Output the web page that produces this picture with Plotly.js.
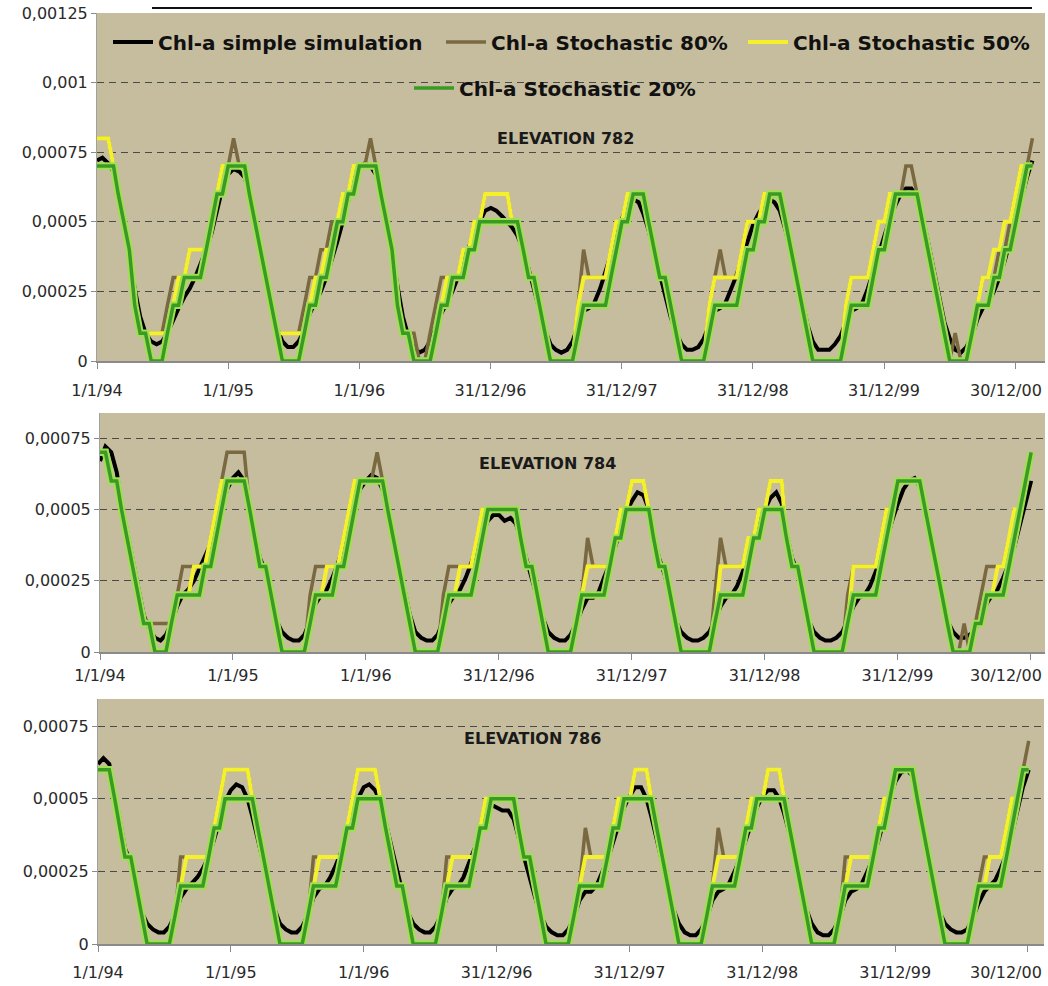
<!DOCTYPE html>
<html><head><meta charset="utf-8">
<script src="https://cdn.plot.ly/plotly-3.0.1.min.js"></script>
<style>html,body{margin:0;padding:0;background:#fff}</style>
</head><body><div id="chart" style="width:1048px;height:986px"></div>
<script>
const seriesNames = ['Chl-a simple simulation','Chl-a Stochastic 80%','Chl-a Stochastic 50%','Chl-a Stochastic 20%'];
const panelTitles = ['ELEVATION 782','ELEVATION 784','ELEVATION 786'];
const xTickDates = ['1994-01-01','1995-01-01','1996-01-01','1996-12-31','1997-12-31','1998-12-31','1999-12-31','2000-12-30'];
const xTickLabels = ['1/1/94','1/1/95','1/1/96','31/12/96','31/12/97','31/12/98','31/12/99','30/12/00'];
const yTickVals1 = [0,0.00025,0.0005,0.00075,0.001,0.00125];
const yTickLabels1 = ['0','0,00025','0,0005','0,00075','0,001','0,00125'];
const yTickVals23 = [0,0.00025,0.0005,0.00075];
const yTickLabels23 = ['0','0,00025','0,0005','0,00075'];

// sampling dates: 1st and 16th of each month, from 1/1/94
const dates = [];
for (let y = 1994; y <= 2001; y++) for (let m = 1; m <= 12; m++) for (const d of ['01','16']) dates.push(y + '-' + String(m).padStart(2,'0') + '-' + d);

// ---------- ELEVATION 782 ----------
const sim782 = [
7.2e-4,7.3e-4,7.1e-4,6.8e-4,6e-4,5e-4,3.8e-4,2.6e-4,1.6e-4,1e-4,7e-5,6e-5,7e-5,1e-4,1.5e-4,1.9e-4,2.3e-4,2.6e-4,3e-4,3.5e-4,4e-4,4.6e-4,5.4e-4,6.2e-4,
6.7e-4,6.9e-4,6.8e-4,6.6e-4,6e-4,5e-4,4e-4,3e-4,2e-4,1.2e-4,7e-5,5e-5,5e-5,7e-5,1.1e-4,1.7e-4,2.1e-4,2.5e-4,3e-4,3.6e-4,4.3e-4,5e-4,5.8e-4,6.5e-4,
6.9e-4,7.1e-4,7e-4,6.7e-4,6e-4,5e-4,3.9e-4,2.7e-4,1.6e-4,9e-5,5e-5,3e-5,4e-5,7e-5,1.2e-4,1.7e-4,2.1e-4,2.5e-4,3e-4,3.6e-4,4.1e-4,4.5e-4,5e-4,5.4e-4,
5.5e-4,5.4e-4,5.2e-4,5e-4,4.8e-4,4.5e-4,4e-4,3.3e-4,2.6e-4,1.8e-4,1.1e-4,6e-5,4e-5,3e-5,4e-5,7e-5,1.3e-4,1.8e-4,1.9e-4,2.1e-4,2.6e-4,3.2e-4,3.8e-4,4.5e-4,
5.1e-4,5.6e-4,5.8e-4,5.7e-4,5.3e-4,4.7e-4,3.9e-4,3.1e-4,2.4e-4,1.6e-4,1e-4,6e-5,4e-5,4e-5,5e-5,8e-5,1.3e-4,1.8e-4,1.9e-4,2.1e-4,2.6e-4,3.1e-4,3.7e-4,4.3e-4,
4.9e-4,5.3e-4,5.6e-4,5.8e-4,5.7e-4,5.4e-4,4.7e-4,3.9e-4,3e-4,2.1e-4,1.3e-4,7e-5,4e-5,4e-5,4e-5,6e-5,9e-5,1.4e-4,1.8e-4,1.9e-4,2.1e-4,2.6e-4,3.2e-4,3.9e-4,
4.5e-4,5.1e-4,5.6e-4,6e-4,6.2e-4,6.2e-4,5.9e-4,5.2e-4,4.3e-4,3.3e-4,2.3e-4,1.4e-4,8e-5,4e-5,3e-5,5e-5,9e-5,1.5e-4,1.9e-4,2.1e-4,2.5e-4,3e-4,3.6e-4,4.3e-4,
5e-4,5.8e-4,6.6e-4,7.2e-4];
const st80_782 = [
8e-4,8e-4,8e-4,7e-4,6e-4,5e-4,4e-4,2e-4,1e-4,1e-4,1e-4,1e-4,1e-4,2e-4,3e-4,3e-4,3e-4,4e-4,4e-4,4e-4,4e-4,5e-4,6e-4,7e-4,
7e-4,8e-4,7e-4,7e-4,6e-4,5e-4,4e-4,3e-4,2e-4,1e-4,1e-4,1e-4,1e-4,1e-4,2e-4,3e-4,3e-4,4e-4,4e-4,5e-4,5e-4,6e-4,6e-4,7e-4,
7e-4,7e-4,8e-4,7e-4,6e-4,5e-4,4e-4,2e-4,1e-4,1e-4,1e-4,0,0,1e-4,2e-4,3e-4,3e-4,3e-4,3e-4,4e-4,4e-4,5e-4,5e-4,6e-4,
6e-4,6e-4,6e-4,6e-4,5e-4,5e-4,4e-4,3e-4,3e-4,2e-4,1e-4,0,0,0,0,0,2e-4,4e-4,3e-4,3e-4,3e-4,3e-4,4e-4,5e-4,
5e-4,6e-4,6e-4,6e-4,6e-4,5e-4,4e-4,3e-4,3e-4,2e-4,1e-4,0,0,0,0,0,2e-4,3e-4,4e-4,3e-4,3e-4,3e-4,4e-4,5e-4,
5e-4,5e-4,6e-4,6e-4,6e-4,6e-4,5e-4,4e-4,3e-4,2e-4,1e-4,0,0,0,0,0,0,2e-4,3e-4,3e-4,3e-4,3e-4,4e-4,5e-4,
5e-4,6e-4,6e-4,6e-4,7e-4,7e-4,6e-4,5e-4,4e-4,3e-4,2e-4,1e-4,0,1e-4,0,0,1e-4,2e-4,3e-4,3e-4,3e-4,4e-4,4e-4,5e-4,
6e-4,7e-4,7e-4,8e-4];
const st50_782 = [
8e-4,8e-4,8e-4,7e-4,6e-4,5e-4,4e-4,2e-4,1e-4,1e-4,1e-4,1e-4,1e-4,1e-4,2e-4,3e-4,3e-4,4e-4,4e-4,4e-4,4e-4,5e-4,6e-4,7e-4,
7e-4,7e-4,7e-4,7e-4,6e-4,5e-4,4e-4,3e-4,2e-4,1e-4,1e-4,1e-4,1e-4,1e-4,1e-4,2e-4,3e-4,3e-4,4e-4,4e-4,5e-4,6e-4,6e-4,7e-4,
7e-4,7e-4,7e-4,7e-4,6e-4,5e-4,4e-4,2e-4,1e-4,1e-4,0,0,0,0,1e-4,2e-4,3e-4,3e-4,3e-4,4e-4,4e-4,5e-4,5e-4,6e-4,
6e-4,6e-4,6e-4,6e-4,5e-4,5e-4,4e-4,3e-4,3e-4,2e-4,1e-4,0,0,0,0,0,2e-4,3e-4,3e-4,3e-4,3e-4,3e-4,4e-4,5e-4,
5e-4,6e-4,6e-4,6e-4,6e-4,5e-4,4e-4,3e-4,3e-4,2e-4,1e-4,0,0,0,0,0,2e-4,3e-4,3e-4,3e-4,3e-4,3e-4,4e-4,5e-4,
5e-4,5e-4,6e-4,6e-4,6e-4,6e-4,5e-4,4e-4,3e-4,2e-4,1e-4,0,0,0,0,0,0,2e-4,3e-4,3e-4,3e-4,3e-4,4e-4,5e-4,
5e-4,6e-4,6e-4,6e-4,6e-4,6e-4,6e-4,5e-4,4e-4,3e-4,2e-4,1e-4,0,0,0,0,1e-4,2e-4,3e-4,3e-4,4e-4,4e-4,5e-4,5e-4,
6e-4,7e-4,7e-4,7e-4];
const st20_782 = [
7e-4,7e-4,7e-4,7e-4,6e-4,5e-4,4e-4,2e-4,1e-4,1e-4,0,0,0,1e-4,2e-4,2e-4,3e-4,3e-4,3e-4,3e-4,4e-4,5e-4,6e-4,6e-4,
7e-4,7e-4,7e-4,7e-4,6e-4,5e-4,4e-4,3e-4,2e-4,1e-4,0,0,0,0,1e-4,2e-4,2e-4,3e-4,3e-4,4e-4,5e-4,5e-4,6e-4,6e-4,
7e-4,7e-4,7e-4,7e-4,6e-4,5e-4,4e-4,2e-4,1e-4,1e-4,0,0,0,0,1e-4,2e-4,2e-4,3e-4,3e-4,3e-4,4e-4,4e-4,5e-4,5e-4,
5e-4,5e-4,5e-4,5e-4,5e-4,5e-4,4e-4,3e-4,3e-4,2e-4,1e-4,0,0,0,0,0,1e-4,2e-4,2e-4,2e-4,2e-4,2e-4,3e-4,4e-4,
5e-4,5e-4,6e-4,6e-4,6e-4,5e-4,4e-4,3e-4,3e-4,2e-4,1e-4,0,0,0,0,0,1e-4,2e-4,2e-4,2e-4,2e-4,2e-4,3e-4,4e-4,
4e-4,5e-4,5e-4,6e-4,6e-4,6e-4,5e-4,4e-4,3e-4,2e-4,1e-4,0,0,0,0,0,0,1e-4,2e-4,2e-4,2e-4,2e-4,3e-4,4e-4,
4e-4,5e-4,6e-4,6e-4,6e-4,6e-4,6e-4,5e-4,4e-4,3e-4,2e-4,1e-4,0,0,0,0,1e-4,2e-4,2e-4,2e-4,3e-4,3e-4,4e-4,4e-4,
5e-4,6e-4,7e-4,7e-4];

// ---------- ELEVATION 784 ----------
const sim784 = [
6.7e-4,7.2e-4,7e-4,6.3e-4,5.2e-4,4.2e-4,3.2e-4,2.2e-4,1.3e-4,8e-5,5e-5,4e-5,6e-5,1e-4,1.6e-4,2e-4,2.2e-4,2.5e-4,2.9e-4,3.3e-4,3.8e-4,4.4e-4,5.1e-4,5.7e-4,
6.1e-4,6.3e-4,6e-4,5.2e-4,4.2e-4,3.3e-4,2.8e-4,2e-4,1.1e-4,7e-5,5e-5,4e-5,4e-5,6e-5,1.1e-4,1.7e-4,2e-4,2.2e-4,2.6e-4,3.1e-4,3.7e-4,4.4e-4,5.1e-4,5.7e-4,
6e-4,6.2e-4,6.1e-4,5.7e-4,4.9e-4,4e-4,3e-4,2.1e-4,1.3e-4,7e-5,5e-5,4e-5,4e-5,6e-5,1.1e-4,1.7e-4,2e-4,2.2e-4,2.6e-4,3.1e-4,3.6e-4,4.1e-4,4.6e-4,4.8e-4,
4.8e-4,4.6e-4,4.7e-4,4.5e-4,4e-4,3.3e-4,2.6e-4,1.9e-4,1.2e-4,7e-5,5e-5,4e-5,4e-5,6e-5,1e-4,1.5e-4,1.9e-4,1.9e-4,2.1e-4,2.6e-4,3.1e-4,3.7e-4,4.3e-4,4.9e-4,
5.3e-4,5.6e-4,5.5e-4,5e-4,4.1e-4,3.3e-4,2.7e-4,1.9e-4,1.1e-4,7e-5,5e-5,4e-5,4e-5,5e-5,7e-5,1.1e-4,1.6e-4,1.9e-4,2e-4,2.3e-4,2.8e-4,3.3e-4,3.9e-4,4.5e-4,
5e-4,5.4e-4,5.6e-4,5.2e-4,4.2e-4,3.3e-4,2.8e-4,1.9e-4,1.1e-4,7e-5,5e-5,4e-5,4e-5,5e-5,7e-5,1.1e-4,1.6e-4,1.9e-4,2e-4,2.3e-4,2.8e-4,3.3e-4,3.9e-4,4.6e-4,
5.2e-4,5.7e-4,6e-4,6.1e-4,5.8e-4,5e-4,4e-4,3e-4,2e-4,1.1e-4,7e-5,5e-5,5e-5,6e-5,8e-5,1.2e-4,1.7e-4,2e-4,2.2e-4,2.6e-4,3.1e-4,3.7e-4,4.4e-4,5.2e-4,
6e-4];
const st80_784 = [
7e-4,7e-4,6e-4,6e-4,5e-4,4e-4,3e-4,2e-4,1e-4,1e-4,1e-4,1e-4,1e-4,1e-4,2e-4,3e-4,3e-4,3e-4,3e-4,3e-4,4e-4,5e-4,6e-4,7e-4,
7e-4,7e-4,7e-4,5e-4,4e-4,3e-4,3e-4,2e-4,1e-4,0,0,0,0,0,2e-4,3e-4,3e-4,3e-4,3e-4,3e-4,4e-4,5e-4,6e-4,6e-4,
6e-4,6e-4,7e-4,6e-4,5e-4,4e-4,3e-4,2e-4,1e-4,0,0,0,0,0,2e-4,3e-4,3e-4,3e-4,3e-4,3e-4,4e-4,5e-4,5e-4,5e-4,
5e-4,5e-4,5e-4,5e-4,4e-4,3e-4,3e-4,2e-4,1e-4,0,0,0,0,0,1e-4,2e-4,4e-4,3e-4,3e-4,3e-4,3e-4,4e-4,5e-4,5e-4,
6e-4,6e-4,6e-4,5e-4,4e-4,3e-4,3e-4,2e-4,1e-4,0,0,0,0,0,0,2e-4,4e-4,3e-4,3e-4,3e-4,3e-4,4e-4,4e-4,5e-4,
5e-4,6e-4,6e-4,6e-4,4e-4,3e-4,3e-4,2e-4,1e-4,0,0,0,0,0,0,2e-4,3e-4,3e-4,3e-4,3e-4,3e-4,4e-4,5e-4,5e-4,
6e-4,6e-4,6e-4,6e-4,6e-4,5e-4,4e-4,3e-4,2e-4,1e-4,0,0,1e-4,0,1e-4,2e-4,3e-4,3e-4,3e-4,3e-4,4e-4,4e-4,5e-4,6e-4,
7e-4];
const st50_784 = [
7e-4,7e-4,6e-4,6e-4,5e-4,4e-4,3e-4,2e-4,1e-4,1e-4,0,0,0,1e-4,2e-4,2e-4,2e-4,3e-4,3e-4,3e-4,4e-4,5e-4,6e-4,6e-4,
6e-4,6e-4,6e-4,5e-4,4e-4,3e-4,3e-4,2e-4,1e-4,0,0,0,0,0,1e-4,2e-4,2e-4,3e-4,3e-4,3e-4,4e-4,5e-4,6e-4,6e-4,
6e-4,6e-4,6e-4,6e-4,5e-4,4e-4,3e-4,2e-4,1e-4,0,0,0,0,0,1e-4,2e-4,2e-4,3e-4,3e-4,3e-4,4e-4,5e-4,5e-4,5e-4,
5e-4,5e-4,5e-4,5e-4,4e-4,3e-4,3e-4,2e-4,1e-4,0,0,0,0,0,1e-4,2e-4,3e-4,3e-4,3e-4,3e-4,3e-4,4e-4,5e-4,5e-4,
6e-4,6e-4,6e-4,5e-4,4e-4,3e-4,3e-4,2e-4,1e-4,0,0,0,0,0,0,1e-4,3e-4,3e-4,3e-4,3e-4,3e-4,4e-4,4e-4,5e-4,
5e-4,6e-4,6e-4,6e-4,4e-4,3e-4,3e-4,2e-4,1e-4,0,0,0,0,0,0,1e-4,3e-4,3e-4,3e-4,3e-4,3e-4,4e-4,5e-4,5e-4,
6e-4,6e-4,6e-4,6e-4,6e-4,5e-4,4e-4,3e-4,2e-4,1e-4,0,0,0,0,1e-4,1e-4,2e-4,2e-4,3e-4,3e-4,4e-4,5e-4,5e-4,6e-4,
7e-4];
const st20_784 = [
7e-4,7e-4,6e-4,6e-4,5e-4,4e-4,3e-4,2e-4,1e-4,1e-4,0,0,0,1e-4,2e-4,2e-4,2e-4,2e-4,2e-4,3e-4,3e-4,4e-4,5e-4,6e-4,
6e-4,6e-4,6e-4,5e-4,4e-4,3e-4,3e-4,2e-4,1e-4,0,0,0,0,0,1e-4,2e-4,2e-4,2e-4,2e-4,3e-4,3e-4,4e-4,5e-4,6e-4,
6e-4,6e-4,6e-4,6e-4,5e-4,4e-4,3e-4,2e-4,1e-4,0,0,0,0,0,1e-4,2e-4,2e-4,2e-4,2e-4,2e-4,3e-4,4e-4,5e-4,5e-4,
5e-4,5e-4,5e-4,5e-4,4e-4,3e-4,3e-4,2e-4,1e-4,0,0,0,0,0,1e-4,2e-4,2e-4,2e-4,2e-4,2e-4,3e-4,4e-4,4e-4,5e-4,
5e-4,5e-4,5e-4,5e-4,4e-4,3e-4,3e-4,2e-4,1e-4,0,0,0,0,0,0,1e-4,2e-4,2e-4,2e-4,2e-4,2e-4,3e-4,4e-4,4e-4,
5e-4,5e-4,5e-4,5e-4,4e-4,3e-4,3e-4,2e-4,1e-4,0,0,0,0,0,0,1e-4,2e-4,2e-4,2e-4,2e-4,2e-4,3e-4,4e-4,5e-4,
6e-4,6e-4,6e-4,6e-4,6e-4,5e-4,4e-4,3e-4,2e-4,1e-4,0,0,0,0,1e-4,1e-4,2e-4,2e-4,2e-4,2e-4,3e-4,4e-4,5e-4,6e-4,
7e-4];

// ---------- ELEVATION 786 ----------
const sim786 = [
6.2e-4,6.4e-4,6.2e-4,5.2e-4,4.2e-4,3.3e-4,2.8e-4,1.9e-4,1.1e-4,7e-5,5e-5,4e-5,4e-5,6e-5,1e-4,1.6e-4,1.9e-4,2.1e-4,2.3e-4,2.6e-4,3e-4,3.6e-4,4.2e-4,4.9e-4,
5.3e-4,5.5e-4,5.4e-4,5e-4,4.4e-4,3.6e-4,2.7e-4,1.9e-4,1.2e-4,7e-5,5e-5,4e-5,4e-5,6e-5,1e-4,1.6e-4,1.9e-4,2e-4,2.3e-4,2.7e-4,3.2e-4,3.8e-4,4.4e-4,5e-4,
5.4e-4,5.5e-4,5.3e-4,4.9e-4,4.2e-4,3.4e-4,2.6e-4,1.8e-4,1.1e-4,7e-5,5e-5,4e-5,4e-5,6e-5,1e-4,1.6e-4,1.9e-4,2e-4,2.3e-4,2.8e-4,3.3e-4,3.9e-4,4.5e-4,4.8e-4,
4.7e-4,4.6e-4,4.6e-4,4.3e-4,3.7e-4,3e-4,2.3e-4,1.6e-4,1e-4,6e-5,4e-5,3e-5,3e-5,5e-5,9e-5,1.5e-4,1.8e-4,1.8e-4,2e-4,2.4e-4,2.9e-4,3.5e-4,4.1e-4,4.7e-4,
5.1e-4,5.4e-4,5.4e-4,5e-4,4.4e-4,3.6e-4,2.7e-4,1.9e-4,1.2e-4,7e-5,4e-5,3e-5,3e-5,5e-5,9e-5,1.5e-4,1.8e-4,1.9e-4,2.1e-4,2.5e-4,3e-4,3.6e-4,4.2e-4,4.7e-4,
5.1e-4,5.3e-4,5.3e-4,5e-4,4.5e-4,3.8e-4,2.9e-4,2e-4,1.2e-4,7e-5,4e-5,3e-5,3e-5,5e-5,9e-5,1.5e-4,1.8e-4,1.9e-4,2.1e-4,2.5e-4,3e-4,3.6e-4,4.3e-4,5e-4,
5.6e-4,5.9e-4,6e-4,5.8e-4,4.9e-4,4e-4,3e-4,2e-4,1.1e-4,7e-5,5e-5,4e-5,4e-5,5e-5,9e-5,1.4e-4,1.8e-4,2e-4,2.2e-4,2.6e-4,3.1e-4,3.8e-4,4.6e-4,5.4e-4,
6e-4];
const st80_786 = [
6e-4,6e-4,6e-4,5e-4,4e-4,3e-4,3e-4,2e-4,1e-4,0,0,0,0,0,1e-4,3e-4,3e-4,3e-4,3e-4,3e-4,3e-4,4e-4,5e-4,6e-4,
6e-4,6e-4,6e-4,6e-4,5e-4,4e-4,3e-4,2e-4,1e-4,0,0,0,0,0,1e-4,3e-4,3e-4,3e-4,3e-4,3e-4,3e-4,4e-4,5e-4,6e-4,
6e-4,6e-4,6e-4,5e-4,4e-4,3e-4,2e-4,2e-4,1e-4,0,0,0,0,0,1e-4,3e-4,3e-4,3e-4,3e-4,3e-4,3e-4,4e-4,5e-4,5e-4,
5e-4,5e-4,5e-4,5e-4,4e-4,3e-4,3e-4,2e-4,1e-4,0,0,0,0,0,1e-4,2e-4,4e-4,3e-4,3e-4,3e-4,3e-4,4e-4,5e-4,5e-4,
5e-4,6e-4,6e-4,6e-4,5e-4,4e-4,3e-4,2e-4,1e-4,0,0,0,0,0,1e-4,2e-4,4e-4,3e-4,3e-4,3e-4,3e-4,4e-4,5e-4,5e-4,
5e-4,6e-4,6e-4,6e-4,5e-4,4e-4,3e-4,2e-4,1e-4,0,0,0,0,0,1e-4,3e-4,3e-4,3e-4,3e-4,3e-4,3e-4,4e-4,5e-4,5e-4,
6e-4,6e-4,6e-4,6e-4,5e-4,4e-4,3e-4,2e-4,1e-4,0,0,0,0,0,1e-4,2e-4,3e-4,3e-4,3e-4,3e-4,4e-4,5e-4,5e-4,6e-4,
7e-4];
const st50_786 = [
6e-4,6e-4,6e-4,5e-4,4e-4,3e-4,3e-4,2e-4,1e-4,0,0,0,0,0,1e-4,2e-4,3e-4,3e-4,3e-4,3e-4,3e-4,4e-4,5e-4,6e-4,
6e-4,6e-4,6e-4,6e-4,5e-4,4e-4,3e-4,2e-4,1e-4,0,0,0,0,0,1e-4,2e-4,3e-4,3e-4,3e-4,3e-4,3e-4,4e-4,5e-4,6e-4,
6e-4,6e-4,6e-4,5e-4,4e-4,3e-4,2e-4,2e-4,1e-4,0,0,0,0,0,1e-4,2e-4,3e-4,3e-4,3e-4,3e-4,3e-4,4e-4,5e-4,5e-4,
5e-4,5e-4,5e-4,5e-4,4e-4,3e-4,3e-4,2e-4,1e-4,0,0,0,0,0,1e-4,2e-4,3e-4,3e-4,3e-4,3e-4,3e-4,4e-4,5e-4,5e-4,
5e-4,6e-4,6e-4,6e-4,5e-4,4e-4,3e-4,2e-4,1e-4,0,0,0,0,0,1e-4,2e-4,3e-4,3e-4,3e-4,3e-4,3e-4,4e-4,5e-4,5e-4,
5e-4,6e-4,6e-4,6e-4,5e-4,4e-4,3e-4,2e-4,1e-4,0,0,0,0,0,1e-4,2e-4,3e-4,3e-4,3e-4,3e-4,3e-4,4e-4,5e-4,5e-4,
6e-4,6e-4,6e-4,6e-4,5e-4,4e-4,3e-4,2e-4,1e-4,0,0,0,0,0,1e-4,2e-4,2e-4,3e-4,3e-4,3e-4,4e-4,5e-4,5e-4,6e-4,
6e-4];
const st20_786 = [
6e-4,6e-4,6e-4,5e-4,4e-4,3e-4,3e-4,2e-4,1e-4,0,0,0,0,0,1e-4,2e-4,2e-4,2e-4,2e-4,2e-4,3e-4,4e-4,4e-4,5e-4,
5e-4,5e-4,5e-4,5e-4,5e-4,4e-4,3e-4,2e-4,1e-4,0,0,0,0,0,1e-4,2e-4,2e-4,2e-4,2e-4,2e-4,3e-4,4e-4,4e-4,5e-4,
5e-4,5e-4,5e-4,5e-4,4e-4,3e-4,2e-4,2e-4,1e-4,0,0,0,0,0,1e-4,2e-4,2e-4,2e-4,2e-4,2e-4,3e-4,4e-4,4e-4,5e-4,
5e-4,5e-4,5e-4,5e-4,4e-4,3e-4,3e-4,2e-4,1e-4,0,0,0,0,0,1e-4,2e-4,2e-4,2e-4,2e-4,2e-4,3e-4,4e-4,4e-4,5e-4,
5e-4,5e-4,5e-4,5e-4,5e-4,4e-4,3e-4,2e-4,1e-4,0,0,0,0,0,1e-4,2e-4,2e-4,2e-4,2e-4,2e-4,3e-4,4e-4,4e-4,5e-4,
5e-4,5e-4,5e-4,5e-4,5e-4,4e-4,3e-4,2e-4,1e-4,0,0,0,0,0,1e-4,2e-4,2e-4,2e-4,2e-4,2e-4,3e-4,4e-4,4e-4,5e-4,
6e-4,6e-4,6e-4,6e-4,5e-4,4e-4,3e-4,2e-4,1e-4,0,0,0,0,0,1e-4,2e-4,2e-4,2e-4,2e-4,2e-4,3e-4,4e-4,5e-4,6e-4,
6e-4];

const panels = [
  {sim: sim782, s80: st80_782, s50: st50_782, s20: st20_782},
  {sim: sim784, s80: st80_784, s50: st50_784, s20: st20_784},
  {sim: sim786, s80: st80_786, s50: st50_786, s20: st20_786}
];

const C = {sim:'#000000', s80:'#7a6940', s50:'#f4f02c', glow:'#9fe052', s20:'#3a9a25'};
const traces = [];
panels.forEach((p, i) => {
  const xa = i === 0 ? 'x' : 'x' + (i + 1);
  const ya = i === 0 ? 'y' : 'y' + (i + 1);
  const first = i === 0;
  const mk = (arr, name, color, width, extra) => Object.assign({
    type:'scatter', mode:'lines', x: dates.slice(0, arr.length), y: arr, name: name,
    xaxis: xa, yaxis: ya, line:{color: color, width: width}, hoverinfo:'skip', showlegend:false
  }, extra || {});
  traces.push(mk(p.sim, seriesNames[0], C.sim, 4, first ? {showlegend:true, legend:'legend'} : {}));
  traces.push(mk(p.s80, seriesNames[1], C.s80, 3.5, first ? {showlegend:true, legend:'legend2'} : {}));
  traces.push(mk(p.s50, seriesNames[2], C.s50, 4, first ? {showlegend:true, legend:'legend3'} : {}));
  traces.push(mk(p.s20, seriesNames[3], C.glow, 7.5, {}));
  traces.push(mk(p.s20, seriesNames[3], C.s20, 3.5, first ? {showlegend:true, legend:'legend4'} : {}));
});

const W = 1048, H = 986;
const tickFont = {family:'DejaVu Sans', size:16, color:'#2a2a2a'};
// last date label is drawn right-aligned inside the page, as in the reference
const xShown = xTickLabels.slice(0, -1).concat(['']);
const xCommon = {type:'date', tickvals: xTickDates, ticktext: xShown, ticks:'outside', ticklen:6,
  tickcolor:'#8a8a8a', showline:true, linecolor:'#8a8a8a', linewidth:1.5, showgrid:false, zeroline:false,
  tickfont: tickFont, fixedrange:true};
const yCommon = {ticks:'outside', ticklen:5, tickcolor:'#8a8a8a', showline:true, linecolor:'#a0a0a0',
  gridcolor:'#4a4a4a', griddash:'7px,5px', gridwidth:1, zeroline:false, tickfont: tickFont, fixedrange:true};
const legFont = {family:'DejaVu Sans', size:20, weight:'bold', color:'#111'};
const leg = (xpx, ypx) => ({orientation:'h', x: xpx / W, y: 1 - ypx / H, xanchor:'left', yanchor:'middle',
  bgcolor:'rgba(0,0,0,0)', font: legFont, itemwidth:40});
const titleFont = {family:'DejaVu Sans', size:16, weight:'bold', color:'#1a1a1a'};
const lastLabel = (ypx) => ({text: xTickLabels[xTickLabels.length - 1], xref:'paper', yref:'paper', x:1044/W, y:1 - ypx/H,
  xanchor:'right', yanchor:'middle', showarrow:false, font: tickFont});

const layout = {
  width: W, height: H, margin:{l:0, r:0, t:0, b:0},
  paper_bgcolor:'#ffffff', plot_bgcolor:'#c6bd9f',
  showlegend:true,
  legend: leg(108, 42), legend2: leg(441, 42), legend3: leg(743, 42), legend4: leg(409, 88),
  xaxis: Object.assign({}, xCommon, {domain:[97/W, 1045/W], anchor:'y', range:['1994-01-01','2001-03-23'], ticklabelstandoff:8}),
  yaxis: Object.assign({}, yCommon, {domain:[1-361/H, 1-13/H], anchor:'x', range:[0, 0.00125], tickvals: yTickVals1, ticktext: yTickLabels1}),
  xaxis2: Object.assign({}, xCommon, {domain:[100/W, 1045/W], anchor:'y2', range:['1994-01-01','2001-02-08'], ticklabelstandoff:2}),
  yaxis2: Object.assign({}, yCommon, {domain:[1-652/H, 1-413/H], anchor:'x2', range:[0, 0.000838], tickvals: yTickVals23, ticktext: yTickLabels23}),
  xaxis3: Object.assign({}, xCommon, {domain:[98/W, 1044/W], anchor:'y3', range:['1994-01-01','2001-02-12'], ticklabelstandoff:7}),
  yaxis3: Object.assign({}, yCommon, {domain:[1-944/H, 1-699/H], anchor:'x3', range:[0, 0.000844], tickvals: yTickVals23, ticktext: yTickLabels23}),
  annotations: [
    {text: panelTitles[0], xref:'paper', yref:'paper', x:565/W, y:1-127/H, showarrow:false, font: titleFont},
    {text: panelTitles[1], xref:'paper', yref:'paper', x:547/W, y:1-463/H, showarrow:false, font: titleFont},
    {text: panelTitles[2], xref:'paper', yref:'paper', x:532/W, y:1-750/H, showarrow:false, font: titleFont},
    lastLabel(390), lastLabel(675), lastLabel(972)
  ],
  shapes: [
    {type:'line', xref:'paper', yref:'paper', x0:152/W, x1:1032/W, y0:1-8/H, y1:1-8/H, line:{color:'#111', width:2}}
  ]
};

Plotly.newPlot('chart', traces, layout, {staticPlot:true, displayModeBar:false});
</script></body></html>
